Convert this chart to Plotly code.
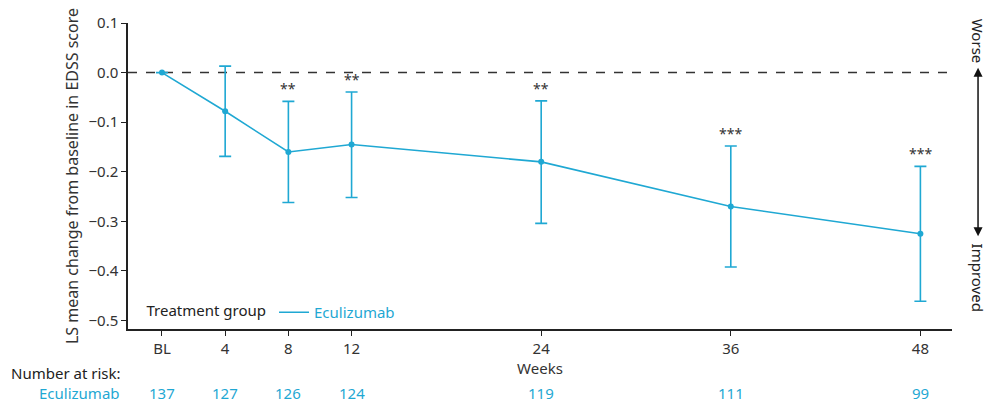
import plotly.graph_objects as go

weeks = [0, 4, 8, 12, 24, 36, 48]
tick_labels = ["BL", "4", "8", "12", "24", "36", "48"]
ls_mean = [0.0, -0.078, -0.160, -0.145, -0.180, -0.270, -0.325]
ci_upper = [0.0, 0.013, -0.058, -0.039, -0.057, -0.148, -0.189]
ci_lower = [0.0, -0.169, -0.262, -0.252, -0.304, -0.392, -0.461]
significance = ["", "", "**", "**", "**", "***", "***"]
n_at_risk = [137, 127, 126, 124, 119, 111, 99]

CYAN = "#1FA8D3"
DARK = "#333333"
FONT = "Noto Sans"
FS = 15

err_plus = [u - m for u, m in zip(ci_upper, ls_mean)]
err_minus = [m - l for l, m in zip(ci_lower, ls_mean)]

fig = go.Figure()
fig.add_trace(go.Scatter(
    x=weeks, y=ls_mean, mode="lines+markers",
    line=dict(color=CYAN, width=1.6),
    marker=dict(color=CYAN, size=6),
    error_y=dict(type="data", symmetric=False, array=err_plus, arrayminus=err_minus,
                 color=CYAN, thickness=1.6, width=6),
    showlegend=False,
))
fig.add_trace(go.Scatter(
    x=[None], y=[None], mode="lines", name="Eculizumab",
    line=dict(color=CYAN, width=1.6), showlegend=True,
))

# significance stars
for w, u, s in zip(weeks, ci_upper, significance):
    if s:
        fig.add_annotation(x=w, y=u, text=s, showarrow=False, yanchor="bottom",
                           yshift=1, font=dict(family=FONT, size=14, color=DARK))

# number at risk
fig.add_annotation(x=-0.145, xref="paper", y=-0.145, yref="paper", text="Number at risk:",
                   showarrow=False, xanchor="left", yanchor="middle",
                   font=dict(family=FONT, size=FS, color="#222222"))
fig.add_annotation(x=-0.007, xref="paper", y=-0.21, yref="paper", text="Eculizumab",
                   showarrow=False, xanchor="right", yanchor="middle",
                   font=dict(family=FONT, size=FS, color=CYAN))
for w, n in zip(weeks, n_at_risk):
    fig.add_annotation(x=w, xref="x", y=-0.21, yref="paper", text=str(n),
                       showarrow=False, xanchor="center", yanchor="middle",
                       font=dict(family=FONT, size=FS, color=CYAN))

# zero reference line
fig.add_shape(type="line", xref="paper", x0=0, x1=1, yref="y", y0=0, y1=0,
              line=dict(color=DARK, width=1.5, dash="dash"), layer="below")

# Worse / Improved arrow
fig.add_annotation(xref="paper", yref="paper", x=1.0316, y=0.303,
                   axref="pixel", ayref="pixel", ax=0, ay=-170,
                   showarrow=True, arrowhead=2, startarrowhead=2, arrowside="end+start",
                   arrowsize=1.2, startarrowsize=1.2, arrowwidth=1.5, arrowcolor="#111111", text="")
fig.add_annotation(xref="paper", yref="paper", x=1.0316, y=0.942, text="Worse",
                   xanchor="center", yanchor="middle",
                   textangle=90, showarrow=False, font=dict(family=FONT, size=FS, color="#222222"))
fig.add_annotation(xref="paper", yref="paper", x=1.0316, y=0.168, text="Improved",
                   xanchor="center", yanchor="middle",
                   textangle=90, showarrow=False, font=dict(family=FONT, size=FS, color="#222222"))

fig.update_layout(
    width=999, height=404,
    margin=dict(l=128, r=47, t=19, b=75),
    paper_bgcolor="white", plot_bgcolor="white",
    font=dict(family=FONT, size=FS, color=DARK),
    legend=dict(orientation="h", x=0.02, y=0.0, xanchor="left", yanchor="bottom",
                bgcolor="rgba(0,0,0,0)",
                title=dict(text="Treatment group", side="left",
                           font=dict(family=FONT, size=FS, color="#222222")),
                font=dict(family=FONT, size=FS, color=CYAN)),
    xaxis=dict(range=[-2.15, 50.0], tickmode="array", tickvals=weeks, ticktext=tick_labels,
               showgrid=False, zeroline=False, showline=True, linecolor="#222222", linewidth=1.5,
               ticks="outside", ticklen=5, tickcolor="#222222", tickwidth=1.2,
               tickfont=dict(family=FONT, size=FS, color=DARK),
               title=dict(text="Weeks", standoff=2, font=dict(family=FONT, size=FS, color=DARK))),
    yaxis=dict(range=[-0.517, 0.1], tickmode="array",
               tickvals=[0.1, 0.0, -0.1, -0.2, -0.3, -0.4, -0.5],
               ticktext=["0.1", "0.0", "\u22120.1", "\u22120.2", "\u22120.3", "\u22120.4", "\u22120.5"],
               showgrid=False, zeroline=False, showline=True, linecolor="#222222", linewidth=1.5,
               ticks="outside", ticklen=5, tickcolor="#222222", tickwidth=1.2,
               tickfont=dict(family=FONT, size=FS, color=DARK),
               title=dict(text="LS mean change from baseline in EDSS score", standoff=6,
                          font=dict(family=FONT, size=16, color=DARK))),
)

fig.write_html("out.html", config={"displayModeBar": False},
               post_script="document.body.style.margin='0px';")
